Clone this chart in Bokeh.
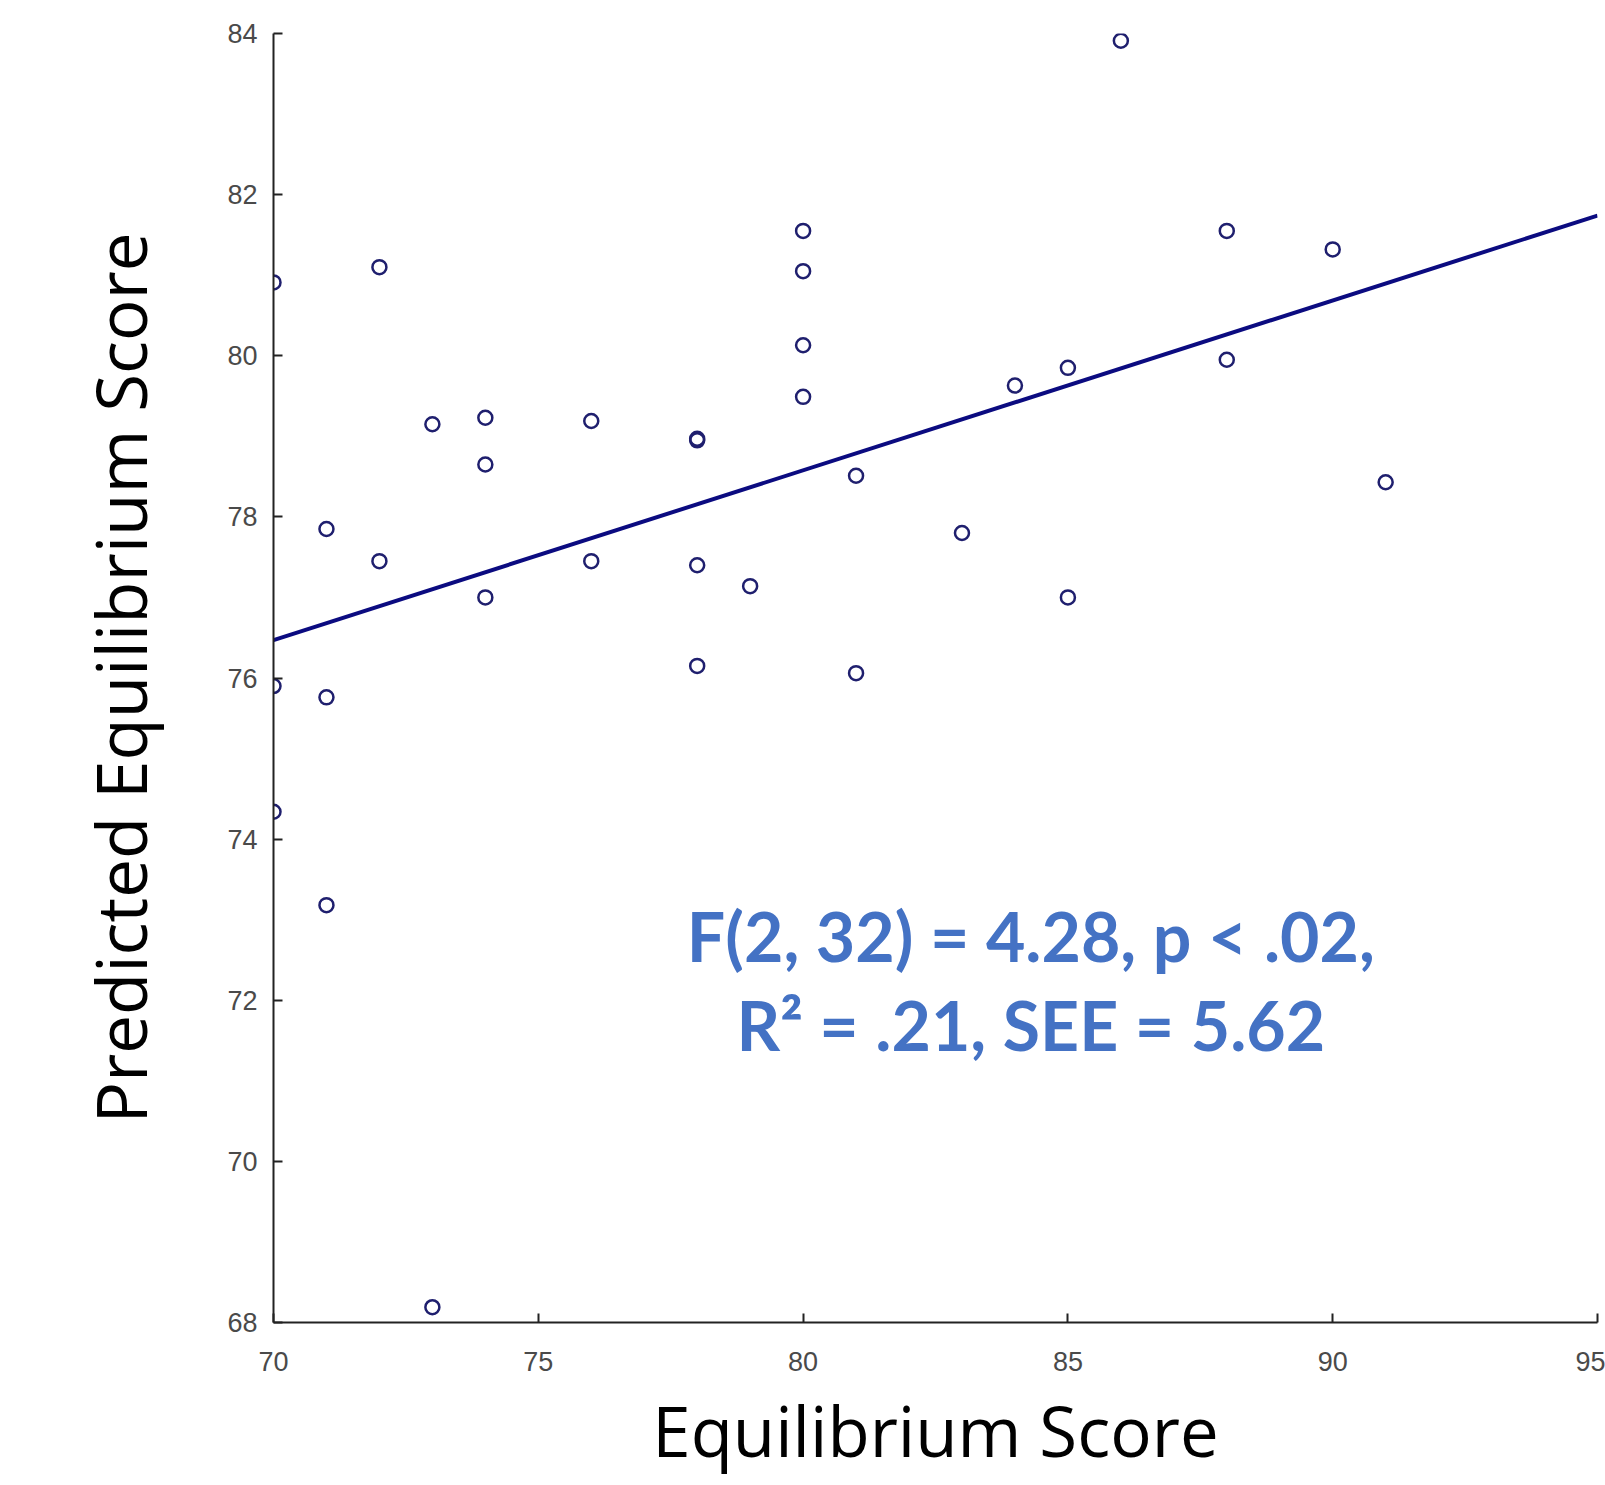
from bokeh.plotting import figure
from bokeh.models import Range1d, FixedTicker, ColumnDataSource, Title
from bokeh.core.properties import value
from bokeh.embed import file_html
from bokeh.resources import INLINE

# Observed scores (x) and predicted scores (y)
eq_score = [70, 70, 70, 71, 71, 71, 72, 72, 73, 73, 74, 74, 74, 76, 76,
            78, 78, 78, 78, 79, 80, 80, 80, 80, 81, 81, 83, 84, 85, 85,
            86, 88, 88, 90, 91]
pred_score = [80.91, 75.90, 74.34, 77.85, 75.76, 73.18, 81.10, 77.45, 79.15, 68.19,
              79.23, 78.65, 77.00, 79.19, 77.45, 78.95, 78.97, 77.40, 76.15, 77.14,
              81.55, 81.05, 80.13, 79.49, 78.51, 76.06, 77.80, 79.63, 79.85, 77.00,
              83.91, 81.55, 79.95, 81.32, 78.43]

# Regression line end points
fit_x = [70, 95]
fit_y = [76.47, 81.74]

x_ticks = [70, 75, 80, 85, 90, 95]
y_ticks = [68, 70, 72, 74, 76, 78, 80, 82, 84]

x_title = "Equilibrium Score"
y_title = "Predicted Equilibrium Score"

stats_lines = ["F(2, 32) = 4.28, p < .02,", "R\u00b2 = .21, SEE = 5.62"]
stats_x = [84.3, 84.3]
stats_y = [72.8, 71.7]

p = figure(width=1605, height=1485, output_backend="svg", toolbar_location=None,
           x_range=Range1d(70, 95), y_range=Range1d(68, 84),
           min_border_left=273, min_border_right=8, min_border_top=33,
           min_border_bottom=163)
p.outline_line_color = None
p.grid.visible = False
p.background_fill_color = "white"
p.border_fill_color = "white"

for ax in (p.xaxis[0], p.yaxis[0]):
    ax.axis_line_color = "#222222"
    ax.axis_line_width = 2
    ax.major_tick_line_color = "#222222"
    ax.major_tick_line_width = 2
    ax.major_tick_in = 9
    ax.major_tick_out = 0
    ax.minor_tick_line_color = None
    ax.major_label_text_font = "Liberation Sans"
    ax.major_label_text_font_size = "27px"
    ax.major_label_text_color = "#4a4a4a"
    ax.axis_label_text_font = "Open Sans"
    ax.axis_label_text_font_style = "normal"
    ax.axis_label_text_font_size = "69px"
    ax.axis_label_text_color = "black"

p.xaxis[0].ticker = FixedTicker(ticks=x_ticks)
p.yaxis[0].ticker = FixedTicker(ticks=y_ticks)
p.xaxis[0].major_label_standoff = 29
p.yaxis[0].major_label_standoff = 16
p.yaxis[0].axis_label = y_title
p.yaxis[0].axis_label_standoff = 57

p.add_layout(Title(text=x_title, align="center", text_font="Open Sans",
                   text_font_style="normal", text_font_size="69px",
                   text_color="black", standoff=14, offset=0), "below")

p.line(fit_x, fit_y, line_color="#0b0b80", line_width=4)
p.scatter(eq_score, pred_score, marker="circle", size=14, fill_color=None,
          line_color="#1f1f6e", line_width=2.5)

src = ColumnDataSource(dict(x=stats_x, y=stats_y, t=stats_lines))
p.text(x="x", y="y", text="t", source=src, text_align="center", text_baseline="middle",
       text_font=value("Lato"), text_font_style="bold", text_font_size="68px",
       text_color="#4472C4")

open("out.html", "w").write(file_html(p, INLINE))
